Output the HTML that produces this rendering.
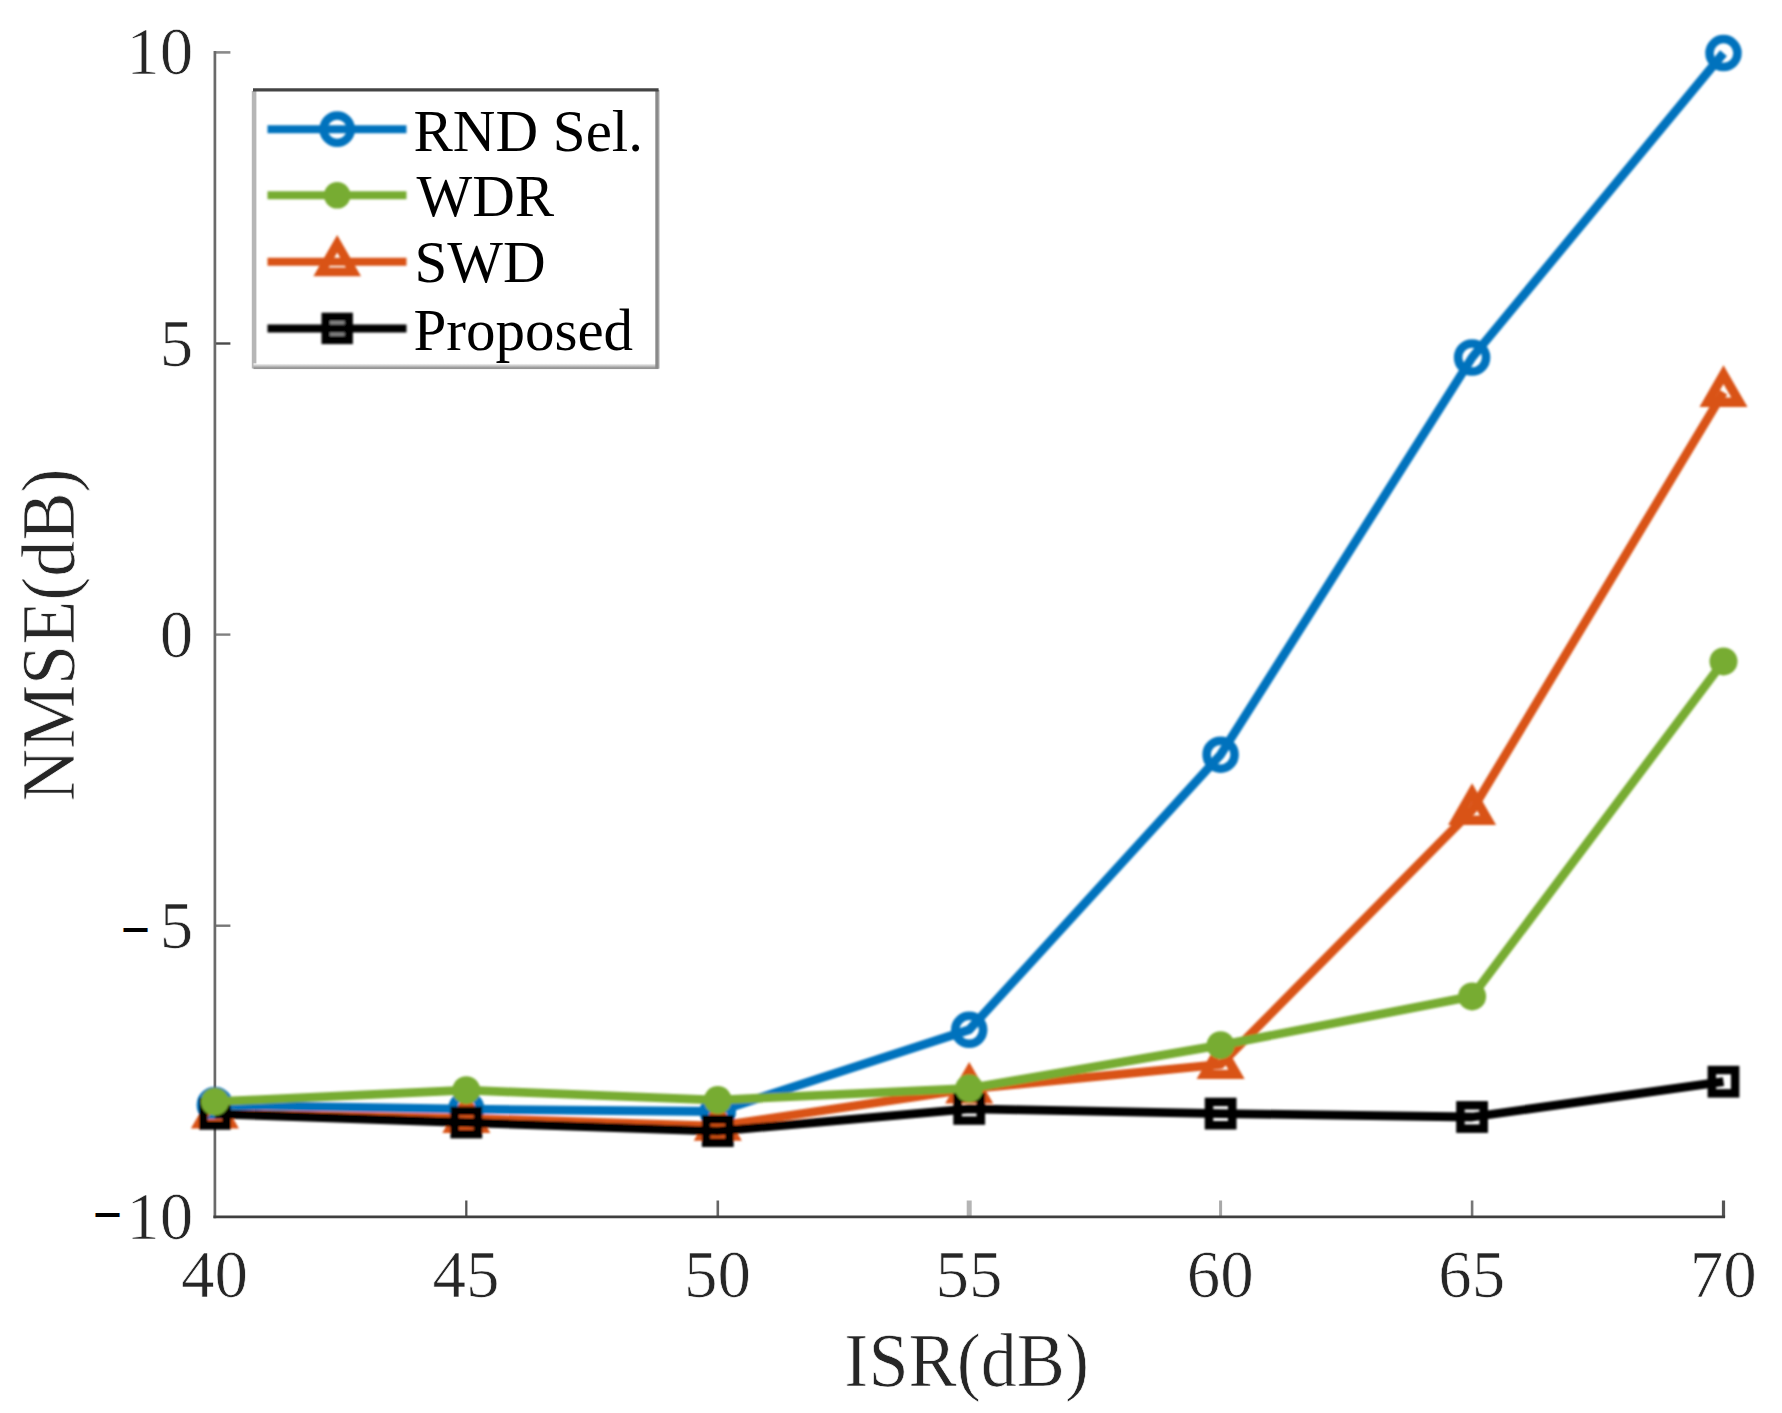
<!DOCTYPE html>
<html lang="en"><head><meta charset="utf-8"><title>NMSE vs ISR</title>
<style>
html,body{margin:0;padding:0;background:#fff;}
body{width:1782px;height:1413px;overflow:hidden;}
svg{display:block;}
text{font-family:"Liberation Serif","Times New Roman",serif;}
.tick{font-size:67px;fill:#262626;stroke:#fff;stroke-width:0.7px;}
.lab{font-size:72.2px;fill:#262626;stroke:#fff;stroke-width:0.7px;}
.minus{font-size:48px;fill:#000;stroke:#000;stroke-width:1.7px;}
.leg{font-size:59px;fill:#000;}
</style></head><body>
<svg width="1782" height="1413" viewBox="0 0 1782 1413">
<rect width="1782" height="1413" fill="#fff"/>
<g fill="none" stroke-linecap="butt">
<path d="M466.3,1216.8 v-16.3" stroke="#555" stroke-width="2.3"/>
<path d="M717.8,1216.8 v-16.3" stroke="#666" stroke-width="2.6"/>
<path d="M969.2,1216.8 v-16.3" stroke="#b4b4b4" stroke-width="5.0"/>
<path d="M1220.6,1216.8 v-16.3" stroke="#a8a8a8" stroke-width="3.0"/>
<path d="M1472.1,1216.8 v-16.3" stroke="#777" stroke-width="2.6"/>
<path d="M1723.5,1216.8 v-16.3" stroke="#555" stroke-width="3.2"/>
<path d="M214.9,52.4 h15.5" stroke="#8a8a8a" stroke-width="2.6"/>
<path d="M214.9,343.5 h15.5" stroke="#4a4a4a" stroke-width="2.4"/>
<path d="M214.9,634.6 h15.5" stroke="#808080" stroke-width="2.4"/>
<path d="M214.9,925.7 h15.5" stroke="#777" stroke-width="2.4"/>
<path d="M214.9,51.10 V1218.2" stroke="#6a6a6a" stroke-width="2.7"/>
<path d="M213.4,1216.8 H1725.10" stroke="#404040" stroke-width="2.7"/>
</g>
<defs><filter id="soft2" filterUnits="userSpaceOnUse" x="150" y="0" width="1632" height="1200"><feGaussianBlur stdDeviation="1.2"/></filter></defs>
<g filter="url(#soft2)">
<polyline points="214.9,1105.0 466.3,1109.2 717.8,1111.5 969.2,1029.8 1220.6,754.7 1472.1,357.5 1723.5,53.1" fill="none" stroke="#0072BD" stroke-width="8.8" stroke-linejoin="round"/>
<circle cx="214.9" cy="1105.0" r="14.0" fill="none" stroke="#0072BD" stroke-width="8.5"/>
<circle cx="466.3" cy="1109.2" r="14.0" fill="none" stroke="#0072BD" stroke-width="8.5"/>
<circle cx="717.8" cy="1111.5" r="14.0" fill="none" stroke="#0072BD" stroke-width="8.5"/>
<circle cx="969.2" cy="1029.8" r="14.0" fill="none" stroke="#0072BD" stroke-width="8.5"/>
<circle cx="1220.6" cy="754.7" r="14.0" fill="none" stroke="#0072BD" stroke-width="8.5"/>
<circle cx="1472.1" cy="357.5" r="14.0" fill="none" stroke="#0072BD" stroke-width="8.5"/>
<circle cx="1723.5" cy="53.1" r="14.0" fill="none" stroke="#0072BD" stroke-width="8.5"/>
<polyline points="214.9,1113.8 466.3,1118.3 717.8,1126.1 969.2,1088.9 1220.6,1064.4 1472.1,810.2 1723.5,392.2" fill="none" stroke="#D95319" stroke-width="8.8" stroke-linejoin="round"/>
<polygon points="214.90,1096.24 199.00,1123.78 230.80,1123.78" fill="none" stroke="#D95319" stroke-width="9.4" stroke-linejoin="miter"/>
<polygon points="466.33,1100.74 450.43,1128.28 482.23,1128.28" fill="none" stroke="#D95319" stroke-width="9.4" stroke-linejoin="miter"/>
<polygon points="717.77,1108.54 701.87,1136.08 733.67,1136.08" fill="none" stroke="#D95319" stroke-width="9.4" stroke-linejoin="miter"/>
<polygon points="969.20,1071.34 953.30,1098.88 985.10,1098.88" fill="none" stroke="#D95319" stroke-width="9.4" stroke-linejoin="miter"/>
<polygon points="1220.63,1046.84 1204.73,1074.38 1236.53,1074.38" fill="none" stroke="#D95319" stroke-width="9.4" stroke-linejoin="miter"/>
<polygon points="1472.07,792.64 1456.17,820.18 1487.97,820.18" fill="none" stroke="#D95319" stroke-width="9.4" stroke-linejoin="miter"/>
<polygon points="1723.50,374.64 1707.60,402.18 1739.40,402.18" fill="none" stroke="#D95319" stroke-width="9.4" stroke-linejoin="miter"/>
<polyline points="214.9,1113.8 466.3,1122.5 717.8,1131.1 969.2,1108.9 1220.6,1113.6 1472.1,1117.0 1723.5,1081.7" fill="none" stroke="#000000" stroke-width="8.8" stroke-linejoin="round"/>
<rect x="203.25" y="1102.15" width="23.3" height="23.3" fill="none" stroke="#000000" stroke-width="8.5"/>
<rect x="454.68" y="1110.85" width="23.3" height="23.3" fill="none" stroke="#000000" stroke-width="8.5"/>
<rect x="706.12" y="1119.45" width="23.3" height="23.3" fill="none" stroke="#000000" stroke-width="8.5"/>
<rect x="957.55" y="1097.25" width="23.3" height="23.3" fill="none" stroke="#000000" stroke-width="8.5"/>
<rect x="1208.98" y="1101.95" width="23.3" height="23.3" fill="none" stroke="#000000" stroke-width="8.5"/>
<rect x="1460.42" y="1105.35" width="23.3" height="23.3" fill="none" stroke="#000000" stroke-width="8.5"/>
<rect x="1711.85" y="1070.05" width="23.3" height="23.3" fill="none" stroke="#000000" stroke-width="8.5"/>
<polyline points="214.9,1101.7 466.3,1090.2 717.8,1100.1 969.2,1088.3 1220.6,1045.2 1472.1,996.4 1723.5,661.4" fill="none" stroke="#77AC30" stroke-width="8.8" stroke-linejoin="round"/>
<circle cx="214.9" cy="1101.7" r="14.0" fill="#77AC30"/>
<circle cx="466.3" cy="1090.2" r="14.0" fill="#77AC30"/>
<circle cx="717.8" cy="1100.1" r="14.0" fill="#77AC30"/>
<circle cx="969.2" cy="1088.3" r="14.0" fill="#77AC30"/>
<circle cx="1220.6" cy="1045.2" r="14.0" fill="#77AC30"/>
<circle cx="1472.1" cy="996.4" r="14.0" fill="#77AC30"/>
<circle cx="1723.5" cy="661.4" r="14.0" fill="#77AC30"/>
</g>
<text class="tick" x="214.6" y="1297.3" text-anchor="middle">40</text>
<text class="tick" x="466.0" y="1297.3" text-anchor="middle">45</text>
<text class="tick" x="717.5" y="1297.3" text-anchor="middle">50</text>
<text class="tick" x="968.9" y="1297.3" text-anchor="middle">55</text>
<text class="tick" x="1220.3" y="1297.3" text-anchor="middle">60</text>
<text class="tick" x="1471.8" y="1297.3" text-anchor="middle">65</text>
<text class="tick" x="1723.2" y="1297.3" text-anchor="middle">70</text>
<text class="tick" x="193.2" y="74.4" text-anchor="end">10</text>
<text class="tick" x="193.2" y="365.5" text-anchor="end">5</text>
<text class="tick" x="193.2" y="656.6" text-anchor="end">0</text>
<text class="tick" x="193.2" y="947.7" text-anchor="end">5</text>
<text class="tick" x="193.2" y="1238.8" text-anchor="end">10</text>
<text class="minus" x="135.4" y="945.9" text-anchor="middle">−</text>
<text class="minus" x="107.4" y="1231.2" text-anchor="middle">−</text>
<text class="lab" transform="translate(966.7,1385.7) scale(1,1.04)" text-anchor="middle">ISR(dB)</text>
<text class="lab" transform="translate(74.3,634.8) rotate(-90) scale(1,1.04)" text-anchor="middle">NMSE(dB)</text>
<g>
<rect x="254" y="90" width="402.5" height="277" fill="#fff" stroke="none"/>
<defs><linearGradient id="gb" x1="0" y1="0" x2="0" y2="1"><stop offset="0" stop-color="#fff"/><stop offset="0.72" stop-color="#959595"/><stop offset="0.86" stop-color="#959595"/><stop offset="1" stop-color="#fff"/></linearGradient><linearGradient id="gr" x1="0" y1="0" x2="1" y2="0"><stop offset="0" stop-color="#8a8a8a"/><stop offset="0.55" stop-color="#8a8a8a"/><stop offset="1" stop-color="#fff"/></linearGradient></defs>
<rect x="251.8" y="91" width="4.6" height="277.5" fill="#b6b6b6"/>
<rect x="253.5" y="363.4" width="405" height="6.2" fill="url(#gb)"/>
<rect x="655.3" y="90" width="5" height="278.6" fill="url(#gr)"/>
<path d="M253,89.9 H658.6" stroke="#444" stroke-width="3.2" fill="none"/>
<defs><filter id="soft" filterUnits="userSpaceOnUse" x="258" y="96" width="160" height="262"><feGaussianBlur stdDeviation="1.0"/></filter></defs>
<g filter="url(#soft)">
<path d="M267.5,129.2 H406.5" stroke="#0072BD" stroke-width="8.0" fill="none"/>
<circle cx="337.2" cy="129.2" r="13.7" fill="none" stroke="#0072BD" stroke-width="8.3"/>
</g>
<text class="leg" x="413.5" y="151.3">RND Sel.</text>
<g filter="url(#soft)">
<path d="M267.5,195.3 H406.5" stroke="#77AC30" stroke-width="8.0" fill="none"/>
<circle cx="337.2" cy="195.3" r="13.3" fill="#77AC30"/>
</g>
<text class="leg" x="416.5" y="216.3">WDR</text>
<g filter="url(#soft)">
<path d="M267.5,261.7 H406.5" stroke="#D95319" stroke-width="8.0" fill="none"/>
<polygon points="337.20,243.79 321.00,271.85 353.40,271.85" fill="none" stroke="#D95319" stroke-width="8.8" stroke-linejoin="miter"/>
</g>
<text class="leg" x="414.5" y="282.2">SWD</text>
<g filter="url(#soft)">
<rect x="325.60" y="316.80" width="23.2" height="23.2" fill="#858585" stroke="#000000" stroke-width="8.2"/>
<path d="M267.5,328.4 H406.5" stroke="#000000" stroke-width="8.0" fill="none"/>
</g>
<text class="leg" x="413.5" y="350.4">Proposed</text>
</g>
</svg></body></html>
